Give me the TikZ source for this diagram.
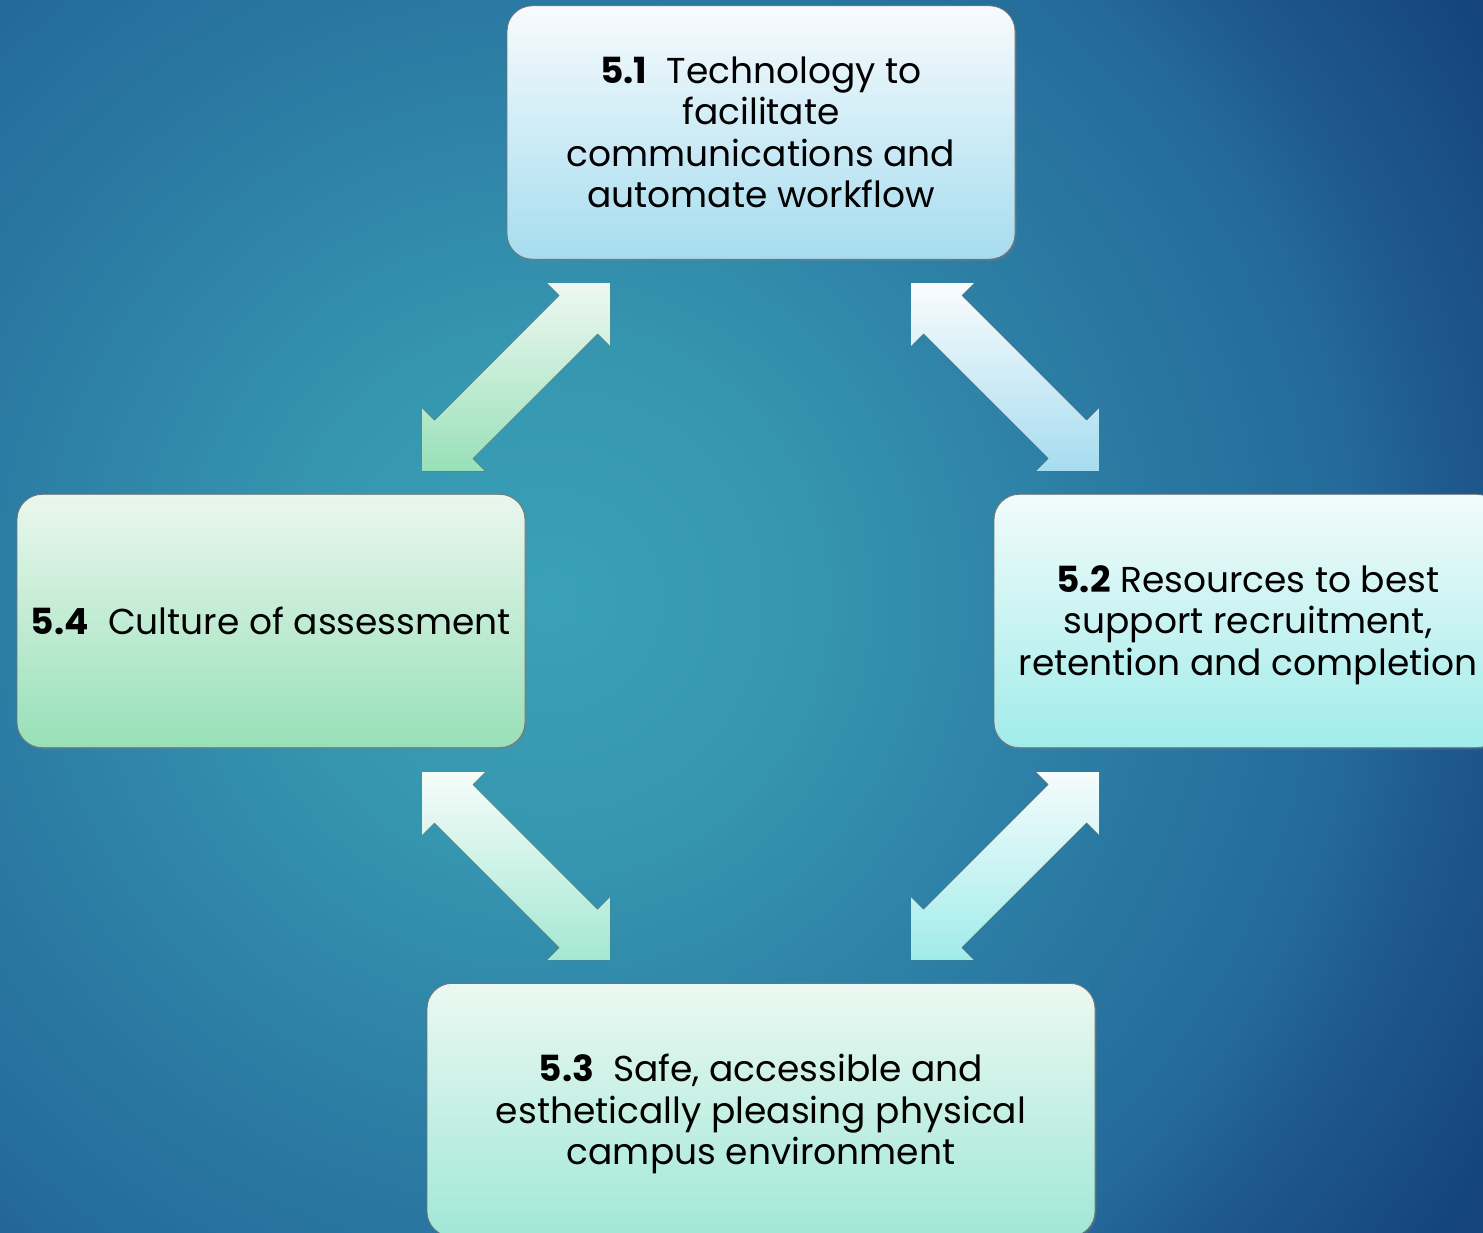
\documentclass[tikz,border=0pt]{standalone}
\usepackage{fontspec}
\setmainfont{Poppins}
\usetikzlibrary{calc,shadows}
\definecolor{bgA}{HTML}{3AA0B8}
\definecolor{bgB}{HTML}{3696B0}
\definecolor{bgC}{HTML}{2D80A6}
\definecolor{bgD}{HTML}{246A9A}
\definecolor{bgE}{HTML}{1F5A8F}
\definecolor{bgF}{HTML}{144479}
\pgfdeclareradialshading{bgshade}{\pgfpoint{0bp}{0bp}}{color(0bp)=(bgA); color(5.5bp)=(bgB); color(11bp)=(bgC); color(17.5bp)=(bgD); color(19.5bp)=(bgE); color(24bp)=(bgF); color(50bp)=(bgF)}
\definecolor{oneT}{HTML}{F7FBFD}\definecolor{oneB}{HTML}{A6DCEF}
\definecolor{twoT}{HTML}{F2FBFB}\definecolor{twoB}{HTML}{A0ECEA}
\definecolor{thrT}{HTML}{ECF8F2}\definecolor{thrB}{HTML}{A0E8D6}
\definecolor{fouT}{HTML}{EAF7EE}\definecolor{fouB}{HTML}{98E0B8}
\definecolor{arAT}{HTML}{EEF8F2}\definecolor{arAB}{HTML}{98E0B8}
\definecolor{arBT}{HTML}{FAFCFE}\definecolor{arBB}{HTML}{A6DCEF}
\definecolor{arCT}{HTML}{F6FCFA}\definecolor{arCB}{HTML}{A4E8D2}
\definecolor{arDT}{HTML}{F6FCFC}\definecolor{arDB}{HTML}{A0ECEA}
\newcommand\blockarrow[6]{%
  \fill[top color=#5, bottom color=#6]
    (#1)
    -- ($(#1)+({63*(#3)},0)$)
    -- ($(#1)+({50.5*(#3)},{12.5*(#4)})$)
    -- ($(#2)+({-12.5*(#3)},{-50.5*(#4)})$)
    -- ($(#2)+(0,{-63*(#4)})$)
    -- (#2)
    -- ($(#2)+({-63*(#3)},0)$)
    -- ($(#2)+({-50.5*(#3)},{-12.5*(#4)})$)
    -- ($(#1)+({12.5*(#3)},{50.5*(#4)})$)
    -- ($(#1)+(0,{63*(#4)})$) -- cycle;}
\tikzset{
  box/.style={rectangle, rounded corners=19pt, minimum width=381pt, minimum height=190pt,
    inner sep=0pt, draw=black!55, line width=0.6pt,
    drop shadow={shadow xshift=1.2pt, shadow yshift=-1.5pt, opacity=0.3}},
  boxtext/.style={inner sep=0pt, align=center, font=\fontsize{27}{31}\selectfont},
}
\begin{document}
\begin{tikzpicture}[x=0.75pt,y=-0.75pt]
\useasboundingbox (0,0) rectangle (1483,1232);
\clip (0,0) rectangle (1483,1232);
\fill[shading=bgshade] (-600,-550) rectangle (1700,1750);
% boxes
\node[box, top color=oneT, bottom color=oneB] (b1) at (761,132.5) {};
\node[box, top color=twoT, bottom color=twoB] (b2) at (1248,621) {};
\node[box, top color=thrT, bottom color=thrB, minimum width=501pt] (b3) at (761,1110) {};
\node[box, top color=fouT, bottom color=fouB] (b4) at (271,621) {};
% texts
\node[boxtext] (t1) at (b1) {{\bfseries 5.1}\ \ Technology to\\facilitate\\communications and\\automate workflow};
\node[boxtext, yshift=-3pt] (t2) at (b2) {{\bfseries 5.2} Resources to best\\support recruitment,\\retention and completion};
\node[boxtext, yshift=-3pt] (t3) at (b3) {{\bfseries 5.3}\ \ Safe, accessible and\\esthetically pleasing physical\\campus environment};
\node[boxtext] (t4) at (b4) {{\bfseries 5.4}\ \ Culture of assessment};
% arrow end points
\coordinate (a1) at (610,283);  \coordinate (a2) at (422,471);
\coordinate (c1) at (911,283);  \coordinate (c2) at (1099,471);
\coordinate (d1) at (422,772);  \coordinate (d2) at (610,960);
\coordinate (e1) at (1099,772); \coordinate (e2) at (911,960);
\blockarrow{a1}{a2}{-1}{1}{arAT}{arAB}
\blockarrow{c1}{c2}{1}{1}{arBT}{arBB}
\blockarrow{d1}{d2}{1}{1}{arCT}{arCB}
\blockarrow{e1}{e2}{-1}{1}{arDT}{arDB}
\end{tikzpicture}
\end{document}
